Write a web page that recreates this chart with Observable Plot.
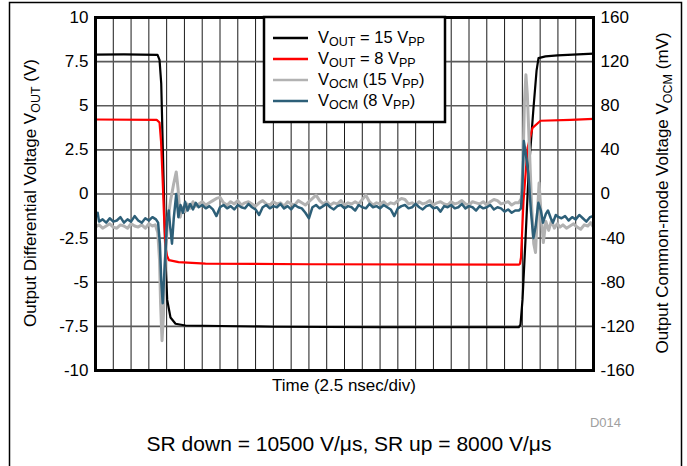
<!DOCTYPE html>
<html><head><meta charset="utf-8">
<script src="https://cdn.jsdelivr.net/npm/d3@7"></script>
<script src="https://cdn.jsdelivr.net/npm/@observablehq/plot@0.6"></script>
<style>
body{margin:0;background:#fff;}
#chart svg{display:block;}
</style>
</head><body><div id="chart"></div>
<script>
// ---- Data (time in ns, VOUT in V, VOCM in mV) ----
const xTicks = [0,2.5,5,7.5,10,12.5,15,17.5,20,22.5,25,27.5,30,32.5,35,37.5,40,42.5,45,47.5,50,52.5,55,57.5,60,62.5,65,67.5,70];
const yTicksLeft = [-10,-7.5,-5,-2.5,0,2.5,5,7.5,10];
const yTicksRight = [-160,-120,-80,-40,0,40,80,120,160];

const vout15 = [[0,7.9],[4,7.91],[8.72,7.88],[9.0,7.6],[9.24,6.25],[9.56,1.0],[9.84,-3.8],[10.08,-6.0],[10.54,-7.0],[11.25,-7.35],[12.65,-7.45],[25,-7.52],[40,-7.55],[59.5,-7.55],[59.74,-7.4],[60.02,-6.0],[60.44,-2.6],[60.87,1.15],[61.57,4.9],[62.0,7.0],[62.27,7.7],[63.25,7.8],[64.94,7.85],[70,7.95]];

const vout8 = [[0,4.22],[8.6,4.2],[9.0,4.05],[9.21,3.0],[9.42,1.0],[9.63,-1.2],[9.84,-3.0],[10.05,-3.5],[10.33,-3.75],[11.67,-3.86],[15.46,-3.94],[30,-3.98],[59.55,-4.0],[59.67,-3.95],[59.81,-3.6],[60.16,-0.4],[60.73,2.6],[61.43,3.75],[62.55,4.15],[66.77,4.2],[70,4.26]];

const vocm15 = [[0,-30],[0.5,-28],[1,-31],[1.5,-29],[2,-27],[2.5,-30],[3,-31],[3.5,-28],[4,-29],[4.5,-31],[5,-27],[5.5,-29],[6,-30],[6.5,-28],[7,-31],[7.5,-27],[8,-29],[8.4,-28],
[8.75,-35],[9.0,-60],[9.15,-100],[9.35,-133],[9.55,-110],[9.85,-51],[10.15,-25],[10.55,-6],[10.95,8],[11.35,20],[11.6,5],[11.9,-21],[12.25,-12],[12.6,-16],[12.9,-9],[13.3,-13],[13.7,-7],[14.1,-11],
[14.5,-9],[15,-7],[15.5,-10],[16,-8],[16.5,-6],[17,-4],[17.5,-3],[18,-8],[18.5,-10],[19,-7],[19.5,-9],[20,-6],[20.5,-10],[21,-8],[21.5,-7],[22,-9],[22.5,-11],[23,-8],[23.5,-6],[24,-9],[24.5,-10],[25,-7],[25.5,-9],[26,-8],[26.5,-11],[27,-7],[27.5,-9],[28,-10],[28.5,-6],[29,-8],[29.5,-10],[30,-7],[30.5,-4],[31,-1],[31.5,-6],[32,-9],[32.5,-7],[33,-10],[33.5,-8],[34,-9],[34.5,-6],[35,-10],[35.5,-8],[36,-9],[36.5,-7],[37,-9],[37.5,-5],[38,-1],[38.5,-7],[39,-10],[39.5,-8],[40,-9],[40.5,-7],[41,-10],[41.5,-8],[42,-9],[42.5,-6],[43,-4],[43.5,-5],[44,-9],[44.5,-8],[45,-10],[45.5,-7],[46,-9],[46.5,-8],[47,-6],[47.5,-10],[48,-8],[48.5,-7],[49,-9],[49.5,-10],[50,-7],[50.5,-9],[51,-8],[51.5,-6],[52,-9],[52.5,-10],[53,-7],[53.5,-8],[54,-9],[54.5,-7],[55,-10],[55.5,-7],[56,-5],[56.5,-6],[57,-9],[57.5,-8],[58,-7],[58.5,-10],[59,-8],
[59.5,-8],[59.85,-4],[60.1,30],[60.3,85],[60.5,108],[60.7,90],[61.0,40],[61.3,-10],[61.6,-45],[61.85,-53],[62.1,-20],[62.35,10],[62.6,-15],[62.95,-44],[63.3,-25],[63.7,-33],[64.1,-24],[64.5,-31],[64.9,-27],[65.3,-30],
[65.7,-28],[66.2,-31],[66.7,-29],[67.2,-27],[67.7,-30],[68.2,-32],[68.7,-28],[69.2,-29],[69.6,-26],[70,-30]];

const vocm8 = [[0,-19],[0.3,-17],[0.5,-25],[1,-23],[1.5,-26],[2,-22],[2.5,-25],[3,-24],[3.5,-21],[4,-26],[4.5,-23],[5,-25],[5.5,-20],[6,-24],[6.5,-26],[7,-22],[7.5,-24],[8,-21],[8.5,-23],
[8.8,-26],[9.05,-45],[9.25,-80],[9.45,-99],[9.65,-75],[9.85,-51],[10.05,-25],[10.3,-15],[10.5,-30],[10.75,-45],[11.0,-22],[11.35,0],[11.65,-21],[11.95,-10],[12.3,-17],[12.6,-7],[12.95,-15],[13.3,-9],[13.7,-14],[14.1,-8],
[14.5,-12],[15,-10],[15.5,-13],[16,-11],[16.5,-14],[17,-20],[17.5,-12],[18,-10],[18.5,-13],[19,-11],[19.5,-14],[20,-10],[20.5,-12],[21,-13],[21.5,-9],[22,-12],[22.5,-14],[23,-19],[23.5,-12],[24,-10],[24.5,-13],[25,-11],[25.5,-12],[26,-9],[26.5,-13],[27,-11],[27.5,-14],[28,-10],[28.5,-12],[29,-13],[29.5,-17],[30,-22],[30.5,-12],[31,-10],[31.5,-13],[32,-11],[32.5,-9],[33,-12],[33.5,-14],[34,-11],[34.5,-10],[35,-13],[35.5,-11],[36,-12],[36.5,-15],[37,-10],[37.5,-12],[38,-13],[38.5,-9],[39,-12],[39.5,-11],[40,-13],[40.5,-10],[41,-12],[41.5,-14],[42,-20],[42.5,-13],[43,-11],[43.5,-10],[44,-13],[44.5,-12],[45,-9],[45.5,-12],[46,-14],[46.5,-11],[47,-10],[47.5,-13],[48,-12],[48.5,-16],[49,-11],[49.5,-12],[50,-10],[50.5,-13],[51,-12],[51.5,-9],[52,-13],[52.5,-11],[53,-12],[53.5,-15],[54,-11],[54.5,-13],[55,-12],[55.5,-10],[56,-14],[56.5,-12],[57,-13],[57.5,-16],[58,-14],[58.5,-17],[59,-15],
[59.5,-15],[59.8,-13],[60.0,5],[60.2,48],[60.45,38],[60.85,18],[61.2,-15],[61.55,-40],[61.85,-30],[62.25,-8],[62.6,-15],[62.9,-26],[63.3,-18],[63.6,-15],[64.0,-22],[64.3,-26],[64.7,-19],[65.1,-21],
[65.5,-22],[66,-20],[66.5,-24],[67,-21],[67.5,-23],[68,-19],[68.5,-22],[69,-25],[69.5,-21],[70,-20]];

const seriesNames = ["VOUT = 15 VPP","VOUT = 8 VPP","VOCM (15 VPP)","VOCM (8 VPP)"];
const seriesColors = ["#000000","#ff0000","#b2b2b2","#2d5f78"];

// VOCM (mV) shares the plot with VOUT (V): 16 mV per V
const mvPerV = 16;
const toRows = (arr) => arr.map(([t,v]) => ({t, v}));
const toRowsMv = (arr) => arr.map(([t,mv]) => ({t, v: mv / mvPerV}));

const FONT = "'Liberation Sans', Arial, sans-serif";

const chart = Plot.plot({
  width: 687, height: 466,
  marginLeft: 95, marginRight: 94, marginTop: 17, marginBottom: 96,
  style: {fontFamily: FONT, fontSize: "17px", background: "#fff", color: "#000"},
  x: {domain: [0, 70], axis: null},
  y: {domain: [-10, 10], axis: null},
  marks: [
    Plot.gridX(xTicks, {stroke: "#1a1a1a", strokeOpacity: 1, strokeWidth: 1}),
    Plot.gridY(yTicksLeft, {stroke: "#5a5a5a", strokeOpacity: 1, strokeWidth: 1.6}),
    Plot.line(toRows(vout15), {x: "t", y: "v", stroke: seriesColors[0], strokeWidth: 2.2}),
    Plot.line(toRows(vout8), {x: "t", y: "v", stroke: seriesColors[1], strokeWidth: 2.2}),
    Plot.line(toRowsMv(vocm15), {x: "t", y: "v", stroke: seriesColors[2], strokeWidth: 3}),
    Plot.line(toRowsMv(vocm8), {x: "t", y: "v", stroke: seriesColors[3], strokeWidth: 2.5}),
    Plot.axisY(yTicksLeft, {anchor: "left", tickSize: 0, tickPadding: 7, tickFormat: d => String(d), label: null, fontSize: 17}),
    Plot.axisY(yTicksLeft, {anchor: "right", tickSize: 0, tickPadding: 7, tickFormat: d => String(d * mvPerV), label: null, fontSize: 17}),
    Plot.frame({stroke: "#000", strokeWidth: 3})
  ]
});
document.getElementById("chart").appendChild(chart);

const svg = d3.select(chart);
// outer figure frame
svg.append("path").attr("d", "M9.5,466 V2.5 H681.5 V466").attr("fill", "none").attr("stroke", "#000").attr("stroke-width", 1.5);

function richText(parent, x, y, segments, size, subSize, anchor, rotate, sh) {
  const s = sh || 4;
  const t = parent.append("text")
    .attr("font-family", FONT).attr("font-size", size).attr("fill", "#000")
    .attr("text-anchor", anchor || "start");
  if (rotate) t.attr("transform", `translate(${x},${y}) rotate(${rotate})`);
  else t.attr("x", x).attr("y", y);
  let shift = 0;
  segments.forEach(([txt, isSub]) => {
    const ts = t.append("tspan").text(txt);
    if (isSub && shift === 0) { ts.attr("font-size", subSize).attr("dy", s); shift = s; }
    else if (!isSub && shift !== 0) { ts.attr("dy", -s); shift = 0; }
    else if (isSub) ts.attr("font-size", subSize);
  });
  return t;
}

// axis titles
richText(svg, 36, 193, [["Output Differential Voltage V"],["OUT",true],[" (V)"]], 17, 12.5, "middle", -90);
richText(svg, 668, 193, [["Output Common-mode Voltage V"],["OCM",true],[" (mV)"]], 17, 12.5, "middle", -90);
svg.append("text").attr("x", 344).attr("y", 391).attr("text-anchor", "middle")
  .attr("font-family", FONT).attr("font-size", 17).text("Time (2.5 nsec/div)");
svg.append("text").attr("x", 621).attr("y", 427).attr("text-anchor", "end")
  .attr("font-family", FONT).attr("font-size", 13).attr("fill", "#a0a0a0").text("D014");
svg.append("text").attr("x", 349).attr("y", 451).attr("text-anchor", "middle")
  .attr("font-family", FONT).attr("font-size", 21).text("SR down = 10500 V/\u03bcs, SR up = 8000 V/\u03bcs");

// legend
const lg = svg.append("g");
lg.append("rect").attr("x", 264).attr("y", 17).attr("width", 181).attr("height", 105)
  .attr("fill", "#fff").attr("stroke", "#000").attr("stroke-width", 2.5);
const legendSegs = [
  [["V"],["OUT",true],[" = 15 V"],["PP",true]],
  [["V"],["OUT",true],[" = 8 V"],["PP",true]],
  [["V"],["OCM",true],[" (15 V"],["PP",true],[")"]],
  [["V"],["OCM",true],[" (8 V"],["PP",true],[")"]]
];
const rowY = [38, 59, 80, 101];
seriesNames.forEach((name, i) => {
  lg.append("line").attr("x1", 273).attr("x2", 308).attr("y1", rowY[i]).attr("y2", rowY[i])
    .attr("stroke", seriesColors[i]).attr("stroke-width", 2.6);
  richText(lg, 318, rowY[i] + 5, legendSegs[i], 16.5, 12.5, "start", null, 3);
});
</script>
</body></html>
